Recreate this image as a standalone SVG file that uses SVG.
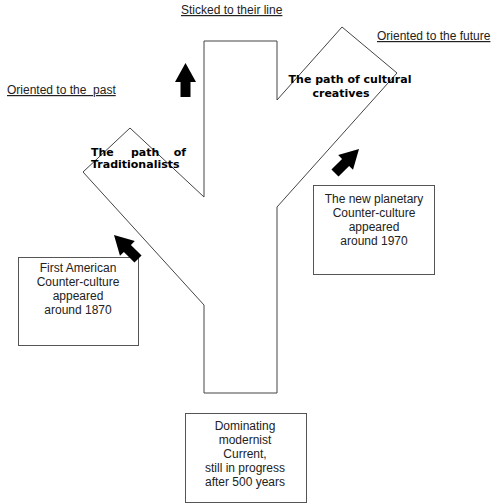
<svg xmlns="http://www.w3.org/2000/svg" width="500" height="504" viewBox="0 0 500 504">
<style>
.lbl{font-family:"Liberation Sans",Arial,sans-serif;font-size:12px;fill:#222}
.ul{text-decoration:underline}
.bold{font-family:"DejaVu Sans",Verdana,sans-serif;font-size:11px;font-weight:bold;fill:#000}
.box{fill:#fff;stroke:#555;stroke-width:1}
.tree{fill:none;stroke:#444;stroke-width:1}
.arr{fill:#000}
</style>
<defs>
<polygon id="arrow" points="0,-17 10.5,2 5,2 5,17 -5,17 -5,2 -10.5,2"/>
</defs>
<rect width="500" height="504" fill="#fff"/>
<g id="tree">
<polygon class="tree" points="204,41 277,41 277,100 342,27 397,73 277,207 277,393 204,393 204,305 83,172 130,128 204,197"/>
<text class="bold" x="91" y="156">The</text>
<text class="bold" x="131" y="156">path</text>
<text class="bold" x="186" y="156" text-anchor="end">of</text>
<text class="bold" x="91" y="168">Traditionalists</text>
<text class="bold" x="350" y="83" text-anchor="middle">The path of cultural</text>
<text class="bold" x="341" y="97" text-anchor="middle">creatives</text>
</g>
<g id="labels">
<text class="lbl ul" x="181" y="14">Sticked to their line</text>
<text class="lbl ul" x="7" y="94" xml:space="preserve" style="white-space:pre">Oriented to the  past</text>
<text class="lbl ul" x="377" y="40">Oriented to the future</text>
</g>
<g id="box-1870">
<rect class="box" x="18.5" y="257.5" width="120" height="88"/>
<text class="lbl" text-anchor="middle" x="78"><tspan x="78" y="272">First American</tspan><tspan x="78" y="286">Counter-culture</tspan><tspan x="78" y="300">appeared</tspan><tspan x="78" y="314">around 1870</tspan></text>
</g>
<g id="box-1970">
<rect class="box" x="313.5" y="185.5" width="121" height="89"/>
<text class="lbl" text-anchor="middle"><tspan x="374" y="203">The new planetary</tspan><tspan x="374" y="217">Counter-culture</tspan><tspan x="374" y="231">appeared</tspan><tspan x="374" y="245">around 1970</tspan></text>
</g>
<g id="box-modernist">
<rect class="box" x="185.5" y="413.5" width="121" height="89"/>
<text class="lbl" text-anchor="middle"><tspan x="245" y="430">Dominating</tspan><tspan x="245" y="444">modernist</tspan><tspan x="245" y="458">Current,</tspan><tspan x="245" y="472">still in progress</tspan><tspan x="245" y="486">after 500 years</tspan></text>
</g>
<g id="connectors">
<use href="#arrow" class="arr" transform="translate(185.5,80)"/>
<use href="#arrow" class="arr" transform="translate(126,247) rotate(-45)"/>
<use href="#arrow" class="arr" transform="translate(347,161) rotate(45)"/>
</g>
</svg>
